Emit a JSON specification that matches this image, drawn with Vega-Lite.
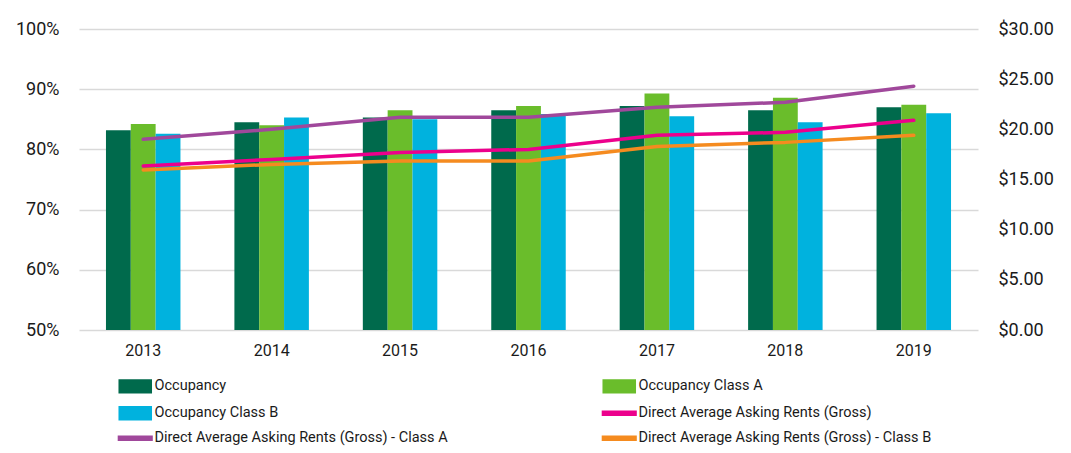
{
  "$schema": "https://vega.github.io/schema/vega-lite/v6.json",
  "width": 899,
  "height": 301,
  "autosize": {"type": "none"},
  "padding": {"left": 79, "top": 29, "right": 93, "bottom": 123},
  "background": "#ffffff",
  "datasets": {
    "occ": [
      {"year": "2013", "series": "Occupancy", "value": 83.2},
      {"year": "2013", "series": "Occupancy Class A", "value": 84.2},
      {"year": "2013", "series": "Occupancy Class B", "value": 82.6},
      {"year": "2014", "series": "Occupancy", "value": 84.5},
      {"year": "2014", "series": "Occupancy Class A", "value": 84.0},
      {"year": "2014", "series": "Occupancy Class B", "value": 85.3},
      {"year": "2015", "series": "Occupancy", "value": 85.3},
      {"year": "2015", "series": "Occupancy Class A", "value": 86.5},
      {"year": "2015", "series": "Occupancy Class B", "value": 85.0},
      {"year": "2016", "series": "Occupancy", "value": 86.5},
      {"year": "2016", "series": "Occupancy Class A", "value": 87.2},
      {"year": "2016", "series": "Occupancy Class B", "value": 85.9},
      {"year": "2017", "series": "Occupancy", "value": 87.2},
      {"year": "2017", "series": "Occupancy Class A", "value": 89.3},
      {"year": "2017", "series": "Occupancy Class B", "value": 85.5},
      {"year": "2018", "series": "Occupancy", "value": 86.5},
      {"year": "2018", "series": "Occupancy Class A", "value": 88.6},
      {"year": "2018", "series": "Occupancy Class B", "value": 84.5},
      {"year": "2019", "series": "Occupancy", "value": 87.0},
      {"year": "2019", "series": "Occupancy Class A", "value": 87.4},
      {"year": "2019", "series": "Occupancy Class B", "value": 86.0}
    ],
    "rent": [
      {"year": "2013", "series": "Direct Average Asking Rents (Gross)", "value": 16.35},
      {"year": "2014", "series": "Direct Average Asking Rents (Gross)", "value": 17.0},
      {"year": "2015", "series": "Direct Average Asking Rents (Gross)", "value": 17.7},
      {"year": "2016", "series": "Direct Average Asking Rents (Gross)", "value": 18.0},
      {"year": "2017", "series": "Direct Average Asking Rents (Gross)", "value": 19.4},
      {"year": "2018", "series": "Direct Average Asking Rents (Gross)", "value": 19.7},
      {"year": "2019", "series": "Direct Average Asking Rents (Gross)", "value": 20.9},
      {"year": "2013", "series": "Direct Average Asking Rents (Gross) - Class A", "value": 19.0},
      {"year": "2014", "series": "Direct Average Asking Rents (Gross) - Class A", "value": 20.0},
      {"year": "2015", "series": "Direct Average Asking Rents (Gross) - Class A", "value": 21.2},
      {"year": "2016", "series": "Direct Average Asking Rents (Gross) - Class A", "value": 21.2},
      {"year": "2017", "series": "Direct Average Asking Rents (Gross) - Class A", "value": 22.2},
      {"year": "2018", "series": "Direct Average Asking Rents (Gross) - Class A", "value": 22.7},
      {"year": "2019", "series": "Direct Average Asking Rents (Gross) - Class A", "value": 24.3},
      {"year": "2013", "series": "Direct Average Asking Rents (Gross) - Class B", "value": 15.95},
      {"year": "2014", "series": "Direct Average Asking Rents (Gross) - Class B", "value": 16.5},
      {"year": "2015", "series": "Direct Average Asking Rents (Gross) - Class B", "value": 16.85},
      {"year": "2016", "series": "Direct Average Asking Rents (Gross) - Class B", "value": 16.85},
      {"year": "2017", "series": "Direct Average Asking Rents (Gross) - Class B", "value": 18.3},
      {"year": "2018", "series": "Direct Average Asking Rents (Gross) - Class B", "value": 18.7},
      {"year": "2019", "series": "Direct Average Asking Rents (Gross) - Class B", "value": 19.4}
    ]
  },
  "encoding": {
    "x": {
      "field": "year",
      "type": "nominal",
      "scale": {"paddingInner": 0.42, "paddingOuter": 0.21},
      "axis": {
        "title": null,
        "labelAngle": 0,
        "ticks": false,
        "domain": false,
        "labelPadding": 12,
        "labelFontSize": 16
      }
    }
  },
  "layer": [
    {
      "data": {"name": "occ"},
      "mark": {"type": "bar"},
      "encoding": {
        "xOffset": {
          "field": "series",
          "type": "nominal",
          "scale": {
            "domain": ["Occupancy", "Occupancy Class A", "Occupancy Class B"],
            "paddingInner": 0,
            "paddingOuter": 0
          }
        },
        "y": {
          "field": "value",
          "type": "quantitative",
          "scale": {"domain": [50, 100], "zero": false, "nice": false},
          "axis": {
            "title": null,
            "values": [50, 60, 70, 80, 90, 100],
            "labelExpr": "datum.value + '%'",
            "grid": true,
            "gridColor": "#d9d9d9",
            "gridWidth": 1.5,
            "domain": false,
            "ticks": false,
            "labelPadding": 20,
            "labelFontSize": 18
          }
        },
        "y2": {"datum": 50},
        "color": {
          "field": "series",
          "type": "nominal",
          "scale": {
            "domain": [
              "Occupancy",
              "Occupancy Class B",
              "Direct Average Asking Rents (Gross) - Class A",
              "Occupancy Class A",
              "Direct Average Asking Rents (Gross)",
              "Direct Average Asking Rents (Gross) - Class B"
            ],
            "range": ["#006a4c", "#00b2de", "#a0489b", "#6abd2b", "#ec008c", "#f58b1f"]
          },
          "legend": {
            "title": null,
            "orient": "none",
            "legendX": 49,
            "legendY": 350,
            "columns": 2,
            "columnPadding": 151,
            "rowPadding": 7,
            "padding": 0,
            "symbolSize": 144,
            "labelOffset": 12,
            "labelFontSize": 14.5,
            "labelLimit": 0,
            "encode": {
              "symbols": {
                "update": {
                  "shape": {"signal": "indexof(['Occupancy','Occupancy Class A','Occupancy Class B'], datum.value) >= 0 ? 'M-2.67,-1.08H2.67V1.08H-2.67Z' : 'M-2.8,-0.33H2.8V0.33H-2.8Z'"},
                  "fill": {"scale": "color", "field": "value"},
                  "stroke": {"value": "transparent"},
                  "opacity": {"value": 1}
                }
              }
            }
          }
        }
      }
    },
    {
      "data": {"name": "rent"},
      "mark": {"type": "line", "strokeWidth": 3.5, "strokeCap": "round", "strokeJoin": "round"},
      "encoding": {
        "y": {
          "field": "value",
          "type": "quantitative",
          "scale": {"domain": [0, 30], "nice": false},
          "axis": {
            "title": null,
            "orient": "right",
            "values": [0, 5, 10, 15, 20, 25, 30],
            "format": "$.2f",
            "grid": false,
            "domain": false,
            "ticks": false,
            "labelPadding": 20,
            "labelFontSize": 18
          }
        },
        "color": {
          "field": "series",
          "type": "nominal",
          "legend": {
            "title": null,
            "orient": "none",
            "legendX": 49,
            "legendY": 350,
            "columns": 2,
            "columnPadding": 151,
            "rowPadding": 7,
            "padding": 0,
            "symbolSize": 144,
            "labelOffset": 12,
            "labelFontSize": 14.5,
            "labelLimit": 0,
            "encode": {
              "symbols": {
                "update": {
                  "shape": {"signal": "indexof(['Occupancy','Occupancy Class A','Occupancy Class B'], datum.value) >= 0 ? 'M-2.67,-1.08H2.67V1.08H-2.67Z' : 'M-2.8,-0.33H2.8V0.33H-2.8Z'"},
                  "fill": {"scale": "color", "field": "value"},
                  "stroke": {"value": "transparent"},
                  "opacity": {"value": 1}
                }
              }
            }
          }
        }
      }
    }
  ],
  "resolve": {"scale": {"y": "independent"}},
  "config": {
    "view": {"stroke": null},
    "font": "Roboto",
    "axis": {"labelColor": "#1a1a1a", "labelFont": "Roboto"},
    "legend": {"labelColor": "#1a1a1a", "labelFont": "Roboto"}
  }
}
